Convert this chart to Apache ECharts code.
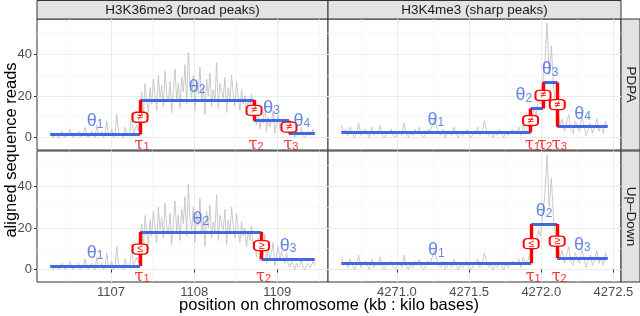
<!DOCTYPE html>
<html><head><meta charset="utf-8">
<script src="https://cdn.jsdelivr.net/npm/echarts@6/dist/echarts.min.js"></script>
<style>html,body{margin:0;padding:0;background:#fff}#c{width:640px;height:316px}</style>
</head><body><div id="c"></div>
<script>
// ---------------- data ----------------
const facetCols = ['H3K36me3 (broad peaks)', 'H3K4me3 (sharp peaks)'];
const facetRows = ['PDPA', 'Up\u2013Down'];
const xTitle = 'position on chromosome (kb : kilo bases)';
const yTitle = 'aligned sequence reads';

const broadStart = 1106.27, broadStep = 0.02;
const broadReads = [
 3,1,0,2,1,0,1,3,2,0, 1,2,4,1,0,2,1,3,0,1, 2,5,1,0,2,3,1,0,6,2, 1,3,0,2,8,1,2,4,0,1, 11,3,1,2,0,5,2,1,3,12, 2,4,6,3,
 14,22,10,26,18,12,24,16,28,20, 13,30,19,25,15,32,21,17,27,12, 23,33,18,26,14,29,22,35,16,41, 24,19,30,13,27,21,34,17,25,11,
 28,20,31,15,23,18,36,14,26,22, 19,29,12,24,17,30,21,15,27,19, 13,23,16,20,11,18,14,21,10,
 12,6,15,4,9,7,17,3,10,5, 8,13,2,7,11,4,9,6,3,8,
 3,1,4,2,0,3,1,2,5,1, 0,2,3,1,2,4,2
];
const sharpStart = 4270.615, sharpStep = 0.015;
const sharpReads = [
 6,2,4,1,5,3,0,2,7,1, 3,4,2,0,5,1,3,2,6,1, 0,3,2,4,1,0,2,3,1,7, 2,0,3,1,4,2,5,1,0,2,
 4,3,6,9,5,2,1,4,0,2, 3,1,5,2,0,3,1,2,4,1, 0,2,3,5,1,2,8,4,1,3, 0,2,1,4,2,0,3,1,2,4, 2,3,5,1,6,3,4,7,
 9,14,11,19,16,27,
 36,55,30,44,24,15,
 12,6,9,3,7,11,4,2,8,5, 3,10,6,1,4,7,2,5,9,3, 6,2,8,5
];

const xTicksBroad = [1107, 1108, 1109];
const xMinorBroad = [1106.5, 1107.5, 1108.5, 1109.5];
const xTicksSharp = [4271.0, 4271.5, 4272.0, 4272.5];
const xMinorSharp = [4270.75, 4271.25, 4271.75, 4272.25];
const yTicks = [0, 20, 40];
const yMinor = [10, 30, 50];

// PDPA model (top row)
const pdpaBroadTau = [1107.35, 1108.72, 1109.14];
const pdpaBroadTheta = [1.5, 18.0, 8.1, 1.9];
const pdpaBroadSym = ['\u2260', '\u2260', '\u2260'];
const pdpaSharpTau = [4271.926, 4272.012, 4272.111];
const pdpaSharpTheta = [2.4, 14.0, 26.5, 5.2];
const pdpaSharpSym = ['\u2260', '\u2260', '\u2260'];
// Up-Down model (bottom row)
const udBroadTau = [1107.35, 1108.81];
const udBroadTheta = [1.7, 18.0, 5.0];
const udBroadSym = ['\u2264', '\u2265'];
const udSharpTau = [4271.93, 4272.11];
const udSharpTheta = [3.0, 21.9, 5.5];
const udSharpSym = ['\u2264', '\u2265'];

// ---------------- layout / style ----------------
const FONT = '"Liberation Sans", Arial, sans-serif';
const SERIF = '"DejaVu Serif", serif';
const BLUE = '#4169E1', RED = '#FF0000', GREY = '#C4C4C4';
const Y_MIN = -6, Y_MAX = 57, TAU_LABEL_Y = -2.8;
const COLS = [{left: 37, width: 291}, {left: 328, width: 293}];
const ROWS = [{top: 19, height: 131}, {top: 151, height: 131}];

function toXY(start, step, vals) { return vals.map((v, i) => [+(start + i * step).toFixed(4), v]); }
const broadXY = toXY(broadStart, broadStep, broadReads);
const sharpXY = toXY(sharpStart, sharpStep, sharpReads);
function expand(xy) { const a = xy[0][0], b = xy[xy.length - 1][0], e = (b - a) * 0.05; return [a - e, b + e]; }

const panels = [
  {row: 0, col: 0, xy: broadXY, tau: pdpaBroadTau, theta: pdpaBroadTheta, sym: pdpaBroadSym, dx: [0, 0, 0, 0]},
  {row: 0, col: 1, xy: sharpXY, tau: pdpaSharpTau, theta: pdpaSharpTheta, sym: pdpaSharpSym, dx: [0, -13, 0, 0]},
  {row: 1, col: 0, xy: broadXY, tau: udBroadTau, theta: udBroadTheta, sym: udBroadSym, dx: [0, 0, 0]},
  {row: 1, col: 1, xy: sharpXY, tau: udSharpTau, theta: udSharpTheta, sym: udSharpSym, dx: [0, 0, 0]}
];

const grid = [], xAxis = [], yAxis = [], series = [];
const labelStyle = {color: '#4D4D4D', fontSize: 13, fontFamily: FONT};

panels.forEach((p, gi) => {
  grid.push({left: COLS[p.col].left, top: ROWS[p.row].top, width: COLS[p.col].width, height: ROWS[p.row].height,
    show: true, backgroundColor: '#fff', borderColor: '#333', borderWidth: 1, containLabel: false});
  const [xmin, xmax] = expand(p.xy);
  const broad = p.col === 0;
  const ticks = broad ? xTicksBroad : xTicksSharp;
  const bottom = p.row === 1, left = p.col === 0;
  xAxis.push({type: 'value', gridIndex: gi, min: xmin, max: xmax, position: 'bottom',
    axisLine: {show: false},
    axisTick: {show: bottom, customValues: ticks, length: 3, lineStyle: {color: '#333'}},
    axisLabel: Object.assign({show: bottom, customValues: ticks, margin: 4,
      formatter: v => broad ? String(Math.round(v)) : Number(v).toFixed(1)}, labelStyle),
    splitLine: {show: true, lineStyle: {color: '#EBEBEB', width: 1}}});
  yAxis.push({type: 'value', gridIndex: gi, min: Y_MIN, max: Y_MAX, position: 'left',
    axisLine: {show: false},
    axisTick: {show: left, customValues: yTicks, length: 3, lineStyle: {color: '#333'}},
    axisLabel: Object.assign({show: left, customValues: yTicks, margin: 5}, labelStyle),
    splitLine: {show: true, lineStyle: {color: '#EBEBEB', width: 1}}});
});
panels.forEach((p, gi) => {
  const [xmin, xmax] = expand(p.xy);
  const minors = p.col === 0 ? xMinorBroad : xMinorSharp;
  xAxis.push({type: 'value', gridIndex: gi, min: xmin, max: xmax, position: 'top',
    axisLine: {show: false}, axisTick: {show: false, customValues: minors},
    axisLabel: {show: false, customValues: minors},
    splitLine: {show: true, lineStyle: {color: '#F5F5F5', width: 0.6}}});
  yAxis.push({type: 'value', gridIndex: gi, min: Y_MIN, max: Y_MAX, position: 'right',
    axisLine: {show: false}, axisTick: {show: false, customValues: yMinor},
    axisLabel: {show: false, customValues: yMinor},
    splitLine: {show: true, lineStyle: {color: '#F5F5F5', width: 0.6}}});
});

panels.forEach((p, gi) => {
  const ax = {xAxisIndex: gi, yAxisIndex: gi};
  const x0 = p.xy[0][0], x1 = p.xy[p.xy.length - 1][0];
  const bounds = [x0].concat(p.tau, [x1]);
  series.push(Object.assign({type: 'line', data: p.xy, showSymbol: false, silent: true, z: 1,
    lineStyle: {color: GREY, width: 0.9}}, ax));
  series.push(Object.assign({type: 'lines', coordinateSystem: 'cartesian2d', z: 3, silent: true,
    lineStyle: {color: BLUE, width: 3.2, opacity: 1},
    data: p.theta.map((t, i) => ({coords: [[bounds[i], t], [bounds[i + 1], t]]}))}, ax));
  series.push(Object.assign({type: 'lines', coordinateSystem: 'cartesian2d', z: 4, silent: true,
    lineStyle: {color: RED, width: 3.4, opacity: 1},
    data: p.tau.map((tx, i) => ({coords: [[tx, p.theta[i]], [tx, p.theta[i + 1]]]}))}, ax));
  series.push(Object.assign({type: 'scatter', z: 5, silent: true, symbol: 'roundRect', symbolSize: [15, 10],
    itemStyle: {color: '#fff', borderColor: RED, borderWidth: 1.6, opacity: 1},
    label: {show: true, position: 'inside', color: RED, fontSize: 11, fontFamily: FONT,
      formatter: pr => p.sym[pr.dataIndex]},
    data: p.tau.map((tx, i) => [tx, (p.theta[i] + p.theta[i + 1]) / 2])}, ax));
  series.push(Object.assign({type: 'scatter', z: 6, silent: true, symbolSize: 0,
    data: p.theta.map((t, i) => ({value: [(bounds[i] + bounds[i + 1]) / 2, t],
      label: {offset: [p.dx[i], -13]}})),
    label: {show: true, position: 'inside',
      formatter: pr => '{t|\u03b8}{s|' + (pr.dataIndex + 1) + '}',
      rich: {t: {fontSize: 18, color: BLUE, fontFamily: FONT, lineHeight: 18, verticalAlign: 'top'},
             s: {fontSize: 12, color: BLUE, fontFamily: FONT, lineHeight: 12, padding: [9, 0, 0, 0], verticalAlign: 'bottom'}}}}, ax));
  series.push(Object.assign({type: 'scatter', z: 6, silent: true, symbolSize: 0,
    data: p.tau.map(tx => [tx, TAU_LABEL_Y]),
    label: {show: true, position: 'inside', offset: [2, 1],
      formatter: pr => '{t|\u03c4}{s|' + (pr.dataIndex + 1) + '}',
      rich: {t: {fontSize: 16, color: RED, fontFamily: SERIF, lineHeight: 16, verticalAlign: 'top'},
             s: {fontSize: 11, color: RED, fontFamily: FONT, lineHeight: 11, padding: [9, 0, 0, 0], verticalAlign: 'bottom'}}}}, ax));
});

const graphic = [];
COLS.forEach((c, i) => {
  graphic.push({type: 'rect', shape: {x: c.left, y: 0.5, width: c.width, height: ROWS[0].top - 0.5},
    style: {fill: '#E3E3E3', stroke: '#333', lineWidth: 1}, silent: true});
  graphic.push({type: 'text', x: c.left + c.width / 2, y: ROWS[0].top / 2 + 0.5,
    style: {text: facetCols[i], fill: '#1A1A1A', font: '13.5px ' + FONT, align: 'center', verticalAlign: 'middle'}, silent: true});
});
const stripX = COLS[1].left + COLS[1].width;
ROWS.forEach((r, i) => {
  graphic.push({type: 'rect', shape: {x: stripX, y: r.top, width: 19, height: r.height},
    style: {fill: '#E3E3E3', stroke: '#333', lineWidth: 1}, silent: true});
  graphic.push({type: 'text', x: stripX + 10, y: r.top + r.height / 2, rotation: -Math.PI / 2,
    style: {text: facetRows[i], fill: '#1A1A1A', font: '13.5px ' + FONT, align: 'center', verticalAlign: 'middle'}, silent: true});
});
graphic.push({type: 'text', x: 329, y: 305, style: {text: xTitle, fill: '#000', font: '16.5px ' + FONT, align: 'center', verticalAlign: 'middle'}, silent: true});
graphic.push({type: 'text', x: 11, y: 150, rotation: Math.PI / 2, style: {text: yTitle, fill: '#000', font: '16.5px ' + FONT, align: 'center', verticalAlign: 'middle'}, silent: true});

const chart = echarts.init(document.getElementById('c'), null, {renderer: 'canvas'});
chart.setOption({animation: false, backgroundColor: '#fff', grid, xAxis, yAxis, series, graphic});
</script>
</body></html>
